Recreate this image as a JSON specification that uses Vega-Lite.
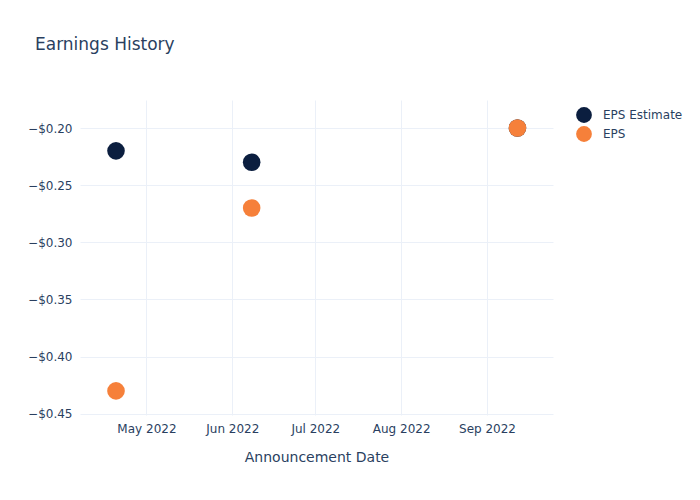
{
  "$schema": "https://vega.github.io/schema/vega-lite/v6.json",
  "autosize": "none",
  "width": 473,
  "height": 315,
  "padding": {"left": 80, "top": 100, "right": 147, "bottom": 85},
  "background": "white",
  "title": {
    "text": "Earnings History",
    "anchor": "start",
    "frame": "group",
    "dx": -45,
    "offset": 33,
    "baseline": "alphabetic",
    "fontSize": 17,
    "fontWeight": "normal",
    "font": "DejaVu Sans",
    "color": "#2a3f5f"
  },
  "data": {
    "values": [
      {"date": "2022-04-20", "value": -0.22, "series": "EPS Estimate"},
      {"date": "2022-06-08", "value": -0.23, "series": "EPS Estimate"},
      {"date": "2022-09-12", "value": -0.20, "series": "EPS Estimate"},
      {"date": "2022-04-20", "value": -0.43, "series": "EPS"},
      {"date": "2022-06-08", "value": -0.27, "series": "EPS"},
      {"date": "2022-09-12", "value": -0.20, "series": "EPS"}
    ]
  },
  "mark": {"type": "circle", "size": 310, "opacity": 1},
  "encoding": {
    "x": {
      "field": "date",
      "type": "temporal",
      "title": "Announcement Date",
      "scale": {
        "type": "utc",
        "domain": [
          {"year": 2022, "month": 4, "date": 7, "utc": true},
          {"year": 2022, "month": 9, "date": 24, "hours": 20, "utc": true}
        ]
      },
      "axis": {
        "format": "%b %Y",
        "values": [
          {"year": 2022, "month": 5, "date": 1, "utc": true},
          {"year": 2022, "month": 6, "date": 1, "utc": true},
          {"year": 2022, "month": 7, "date": 1, "utc": true},
          {"year": 2022, "month": 8, "date": 1, "utc": true},
          {"year": 2022, "month": 9, "date": 1, "utc": true}
        ],
        "labelPadding": 8,
        "titlePadding": 16,
        "labelFlush": false,
        "labelOverlap": false
      }
    },
    "y": {
      "field": "value",
      "type": "quantitative",
      "title": null,
      "scale": {"domain": [-0.4511, -0.1755], "nice": false, "zero": false},
      "axis": {
        "format": "$.2f",
        "values": [-0.45, -0.40, -0.35, -0.30, -0.25, -0.20],
        "labelPadding": 8
      }
    },
    "color": {
      "field": "series",
      "type": "nominal",
      "sort": ["EPS Estimate", "EPS"],
      "scale": {"domain": ["EPS Estimate", "EPS"], "range": ["#0b1e3f", "#f6803a"]},
      "legend": {
        "title": null,
        "orient": "none",
        "legendX": 495,
        "legendY": 6,
        "padding": 0,
        "symbolType": "circle",
        "symbolSize": 250,
        "symbolOpacity": 1,
        "rowPadding": 2,
        "labelOffset": 10,
        "labelFontSize": 12,
        "labelColor": "#2a3f5f",
        "labelFont": "DejaVu Sans"
      }
    },
    "order": {"field": "series", "sort": "descending"}
  },
  "config": {
    "view": {"stroke": null},
    "axis": {
      "domain": false,
      "ticks": false,
      "grid": true,
      "gridColor": "#ebf0f8",
      "gridWidth": 1,
      "labelFont": "DejaVu Sans",
      "labelFontSize": 12,
      "labelColor": "#2a3f5f",
      "titleFont": "DejaVu Sans",
      "titleFontSize": 14,
      "titleFontWeight": "normal",
      "titleColor": "#2a3f5f"
    }
  }
}
